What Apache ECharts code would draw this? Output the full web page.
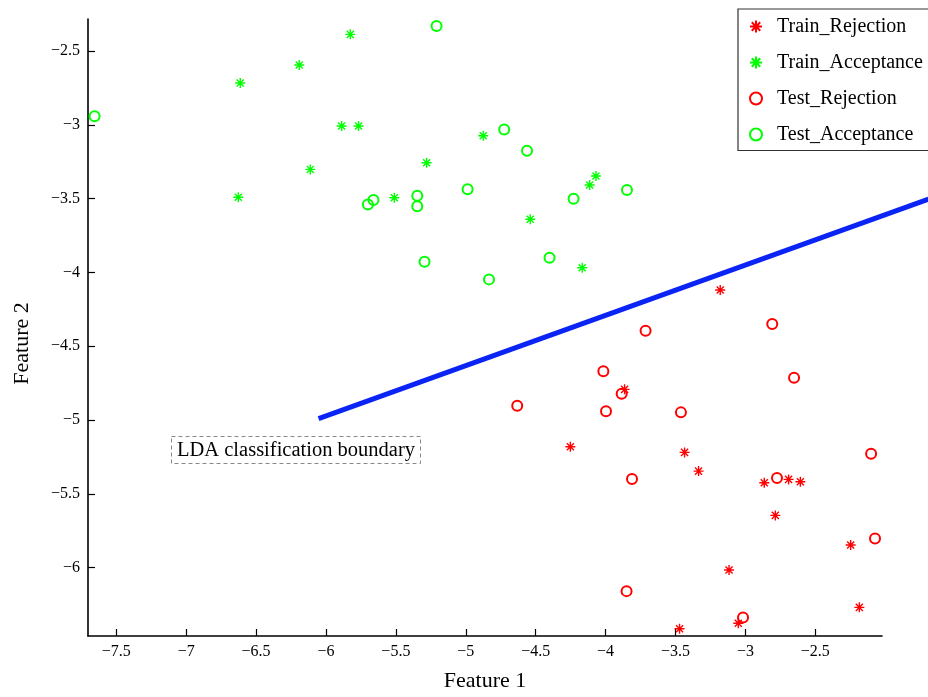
<!DOCTYPE html>
<html>
<head>
<meta charset="utf-8">
<script src="https://cdn.jsdelivr.net/npm/echarts@6/dist/echarts.min.js"></script>
<style>html,body{margin:0;padding:0;background:#fff;}#c{width:928px;height:697px;}</style>
</head>
<body>
<div id="c"></div>
<script>
// ---- data ----
const trainRejX = [-3.180,-3.864,-4.252,-3.435,-3.335,-2.865,-2.691,-2.607,-2.786,-2.247,-3.117,-2.185,-3.051,-3.471];
const trainRejY = [-4.119,-4.792,-5.181,-5.219,-5.346,-5.425,-5.402,-5.418,-5.646,-5.847,-6.016,-6.269,-6.377,-6.414];
const trainAccX = [-6.613,-6.191,-5.826,-5.888,-5.767,-6.112,-5.280,-4.875,-5.511,-4.539,-4.114,-4.069,-4.167,-6.627];
const trainAccY = [-2.717,-2.595,-2.387,-3.008,-3.008,-3.302,-3.257,-3.074,-3.494,-3.640,-3.408,-3.347,-3.968,-3.491];
const testRejX = [-3.714,-2.808,-4.016,-2.652,-3.885,-4.632,-3.997,-3.461,-2.101,-3.811,-2.774,-2.073,-3.850,-3.017];
const testRejY = [-4.395,-4.350,-4.670,-4.713,-4.822,-4.903,-4.941,-4.948,-5.228,-5.400,-5.393,-5.802,-6.159,-6.337];
const testAccX = [-7.655,-5.209,-4.725,-4.562,-4.987,-3.847,-4.229,-5.660,-5.700,-5.347,-5.347,-5.295,-4.834,-4.401];
const testAccY = [-2.942,-2.331,-3.031,-3.175,-3.437,-3.442,-3.500,-3.509,-3.539,-3.480,-3.552,-3.927,-4.047,-3.900];
const ldaX = [-6.053, -1.69];
const ldaY = [-4.991, -3.503];
const xTicks = [-7.5,-7,-6.5,-6,-5.5,-5,-4.5,-4,-3.5,-3,-2.5];
const yTicks = [-6,-5.5,-5,-4.5,-4,-3.5,-3,-2.5];
const seriesNames = ['Train_Rejection','Train_Acceptance','Test_Rejection','Test_Acceptance'];
const boundaryLabel = 'LDA classification boundary';

const zip = (xs, ys) => xs.map((x, i) => [x, ys[i]]);
const FONT = '"Liberation Serif", "Times New Roman", serif';
const ASTER = 'path://M0,-1L0,1M-1,0L1,0M-0.707,-0.707L0.707,0.707M-0.707,0.707L0.707,-0.707';
const fmt = v => String(v).replace('-', '\u2212');

// axis extents (the boundary line continues past the plotted axis, to the figure edge)
const X_MIN = -7.702, X_MAX = -2.023, Y_MIN = -6.463, Y_MAX = -2.283;
const GRID = {left: 88, right: 46, top: 19, bottom: 61};
const W = 928;
const plotW = W - GRID.left - GRID.right;
const X_MAX_EXT = X_MIN + (X_MAX - X_MIN) * (W - GRID.left) / plotW;

function aster(name, xs, ys, col) {
  return {name, type: 'scatter', data: zip(xs, ys), symbol: ASTER, symbolSize: 10,
    itemStyle: {color: col, borderColor: col, borderWidth: 1.4, opacity: 1}, z: 3};
}
function ring(name, xs, ys, col) {
  return {name, type: 'scatter', data: zip(xs, ys), symbol: 'circle', symbolSize: 10,
    itemStyle: {color: 'rgba(255,255,255,0)', borderColor: col, borderWidth: 2, opacity: 1}, z: 3};
}

const chart = echarts.init(document.getElementById('c'), null, {renderer: 'canvas'});
chart.setOption({
  animation: false,
  backgroundColor: '#ffffff',
  grid: [
    {left: GRID.left, right: GRID.right, top: GRID.top, bottom: GRID.bottom},
    {left: GRID.left, right: 0, top: GRID.top, bottom: GRID.bottom}
  ],
  xAxis: [{
    type: 'value', min: X_MIN, max: X_MAX, gridIndex: 0,
    name: 'Feature 1', nameLocation: 'middle', nameGap: 34,
    nameTextStyle: {fontFamily: FONT, fontSize: 22, color: '#000'},
    axisLine: {show: true, onZero: false, lineStyle: {color: '#000', width: 1.6}},
    axisTick: {show: true, inside: true, length: 7, customValues: xTicks, lineStyle: {color: '#000', width: 1.2}},
    axisLabel: {customValues: xTicks, formatter: fmt, fontFamily: FONT, fontSize: 16, color: '#000', margin: 8},
    splitLine: {show: false}
  }, {
    type: 'value', min: X_MIN, max: X_MAX_EXT, gridIndex: 1, show: false
  }],
  yAxis: [{
    type: 'value', min: Y_MIN, max: Y_MAX, gridIndex: 0,
    name: 'Feature 2', nameLocation: 'middle', nameGap: 55,
    nameTextStyle: {fontFamily: FONT, fontSize: 22, color: '#000', padding: [0, 32, 0, 0]},
    axisLine: {show: true, onZero: false, lineStyle: {color: '#000', width: 1.6}},
    axisTick: {show: true, inside: true, length: 7, customValues: yTicks, lineStyle: {color: '#000', width: 1.2}},
    axisLabel: {customValues: yTicks, formatter: fmt, fontFamily: FONT, fontSize: 16, color: '#000', margin: 8},
    splitLine: {show: false}
  }, {
    type: 'value', min: Y_MIN, max: Y_MAX, gridIndex: 1, show: false
  }],
  legend: {
    orient: 'vertical', left: 738, top: 9,
    data: seriesNames,
    itemWidth: 12, itemHeight: 12, itemGap: 16,
    padding: [7.5, 10, 6, 11],
    borderColor: '#333', borderWidth: 1.2, backgroundColor: '#fff',
    textStyle: {fontFamily: FONT, fontSize: 20, color: '#000', lineHeight: 20, padding: [0, 0, 0, 10]},
    selectedMode: false, z: 10
  },
  series: [
    aster(seriesNames[0], trainRejX, trainRejY, '#ff0000'),
    aster(seriesNames[1], trainAccX, trainAccY, '#00ff00'),
    ring(seriesNames[2], testRejX, testRejY, '#ff0000'),
    ring(seriesNames[3], testAccX, testAccY, '#00ff00'),
    {name: 'LDA boundary', type: 'line', xAxisIndex: 1, yAxisIndex: 1,
     data: zip(ldaX, ldaY), symbol: 'none', clip: false,
     lineStyle: {color: '#0a24f5', width: 5}, z: 2}
  ],
  graphic: [{
    type: 'group', left: 171, top: 436,
    children: [
      {type: 'rect', shape: {x: 0, y: 0, width: 249, height: 27},
       style: {fill: '#fff', stroke: '#888', lineWidth: 1, lineDash: [4, 3]}},
      {type: 'text', x: 124.5, y: 14,
       style: {text: boundaryLabel, font: '20.5px ' + FONT, fill: '#000', align: 'center', verticalAlign: 'middle'}}
    ]
  }]
});
</script>
</body>
</html>
